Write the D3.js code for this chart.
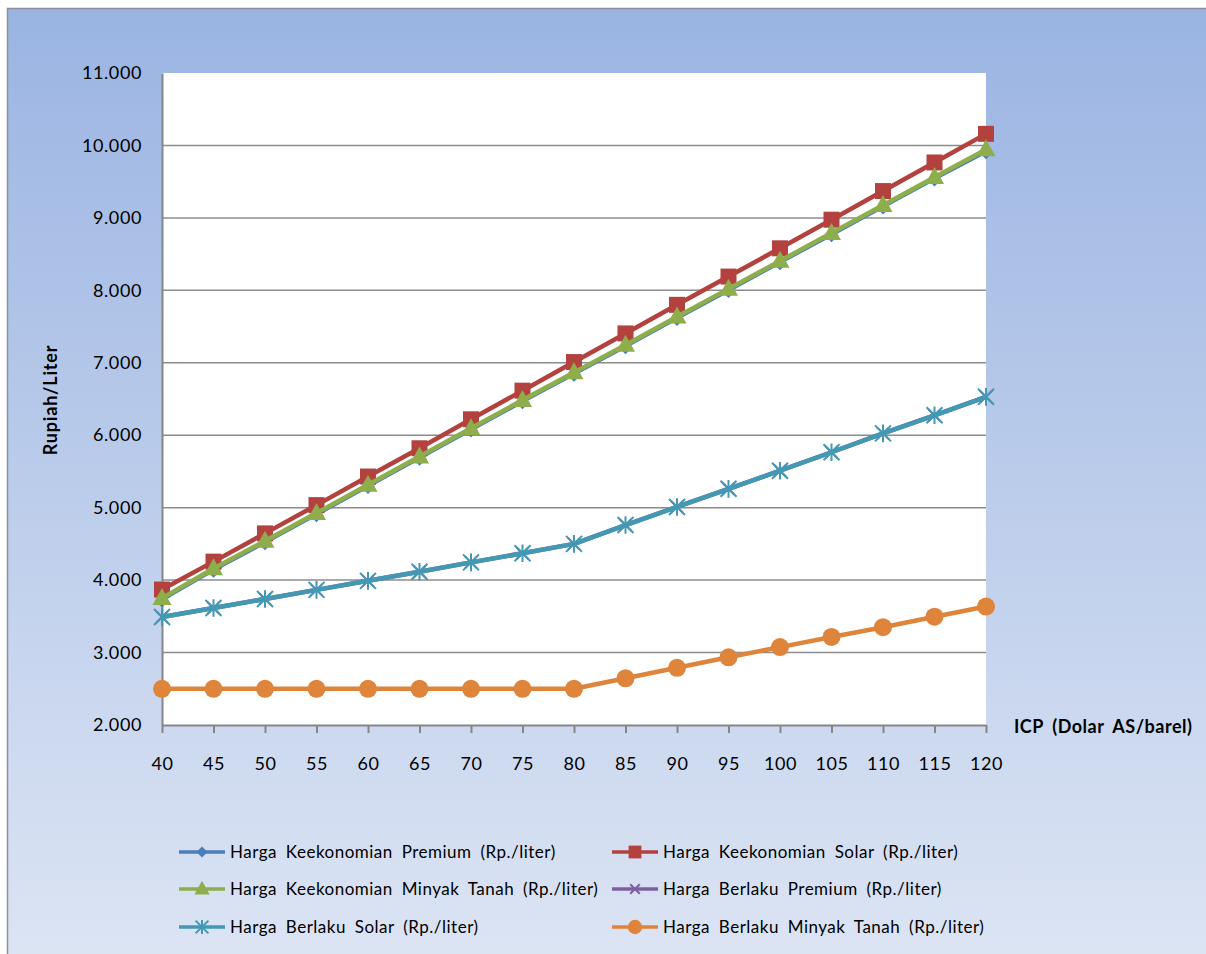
<!DOCTYPE html>
<html>
<head>
<meta charset="utf-8">
<script src="https://cdn.jsdelivr.net/npm/d3@7"></script>
<style>
  html, body { margin: 0; padding: 0; background: #ffffff; }
  svg { display: block; font-family: Lato, "Open Sans", "Noto Sans", sans-serif; }
</style>
</head>
<body>
<svg id="chart" width="1206" height="954"></svg>
<script>
// ICP (USD/barrel) categories
const icp = [40, 45, 50, 55, 60, 65, 70, 75, 80, 85, 90, 95, 100, 105, 110, 115, 120];

// Fuel prices in Rupiah per liter for each ICP level
const keekonomianPremium = [3720, 4130, 4510, 4895, 5285, 5675, 6065, 6455, 6835, 7215, 7605, 7990, 8375, 8760, 9145, 9530, 9905];
const keekonomianSolar   = [3870, 4255, 4645, 5035, 5430, 5820, 6220, 6615, 7010, 7405, 7800, 8190, 8580, 8975, 9370, 9765, 10160];
const keekonomianMinyak  = [3750, 4160, 4540, 4925, 5315, 5705, 6095, 6485, 6865, 7245, 7635, 8020, 8405, 8790, 9175, 9560, 9945];
const berlakuPremium     = [3490, 3615, 3740, 3865, 3990, 4115, 4245, 4370, 4500, 4760, 5010, 5260, 5510, 5765, 6025, 6275, 6530];
const berlakuSolar       = [3490, 3615, 3740, 3865, 3990, 4115, 4245, 4370, 4500, 4760, 5010, 5260, 5510, 5765, 6025, 6275, 6530];
const berlakuMinyak      = [2500, 2500, 2500, 2500, 2500, 2500, 2500, 2500, 2500, 2645, 2790, 2935, 3075, 3215, 3350, 3495, 3635];

const yTicks = [2000, 3000, 4000, 5000, 6000, 7000, 8000, 9000, 10000, 11000];

const seriesNames = [
  "Harga Keekonomian Premium (Rp./liter)",
  "Harga Keekonomian Solar (Rp./liter)",
  "Harga Keekonomian Minyak Tanah (Rp./liter)",
  "Harga Berlaku Premium (Rp./liter)",
  "Harga Berlaku Solar (Rp./liter)",
  "Harga Berlaku Minyak Tanah (Rp./liter)"
];
const seriesValues = [keekonomianPremium, keekonomianSolar, keekonomianMinyak, berlakuPremium, berlakuSolar, berlakuMinyak];
const seriesColors = ["#4a7ebb", "#b3423f", "#8dae4b", "#7d5fa0", "#4399b4", "#de843b"];
const seriesMarkers = ["diamond", "square", "triangle", "x", "star", "circle"];
const seriesWidths = [2.5, 4.5, 4.5, 4.5, 4.5, 4.5];

const svg = d3.select("#chart");

// Chart area background with a vertical gradient
const defs = svg.append("defs");
const grad = defs.append("linearGradient").attr("id", "bg").attr("x1", 0).attr("y1", 0).attr("x2", 0).attr("y2", 1);
grad.append("stop").attr("offset", "0%").attr("stop-color", "#9ab4e2");
grad.append("stop").attr("offset", "100%").attr("stop-color", "#dde5f4");

svg.append("rect").attr("x", 7.5).attr("y", 8.5).attr("width", 1200).attr("height", 960)
  .attr("fill", "url(#bg)").attr("stroke", "#8a8f99").attr("stroke-width", 1.5);

const plot = { left: 162, right: 986, top: 73, bottom: 725 };

const x = d3.scalePoint().domain(icp).range([plot.left, plot.right]);
const y = d3.scaleLinear().domain([2000, 11000]).range([plot.bottom, plot.top]);

svg.append("rect").attr("x", plot.left).attr("y", plot.top)
  .attr("width", plot.right - plot.left).attr("height", plot.bottom - plot.top)
  .attr("fill", "#ffffff");

// Horizontal gridlines
svg.append("g").selectAll("line").data(yTicks.filter(d => d > 2000 && d < 11000)).join("line")
  .attr("x1", plot.left).attr("x2", plot.right)
  .attr("y1", d => y(d)).attr("y2", d => y(d))
  .attr("stroke", "#8c8c8c").attr("stroke-width", 1.5);

const tickStyle = sel => sel.attr("font-size", 18).attr("fill", "#000")
  .attr("font-family", "Lato, sans-serif").attr("letter-spacing", 0.6);

// Y axis
const yAxis = svg.append("g").attr("transform", `translate(${plot.left},0)`)
  .call(d3.axisLeft(y).tickValues(yTicks).tickSize(0).tickPadding(20)
    .tickFormat(d => d3.format(",.0f")(d).replace(/,/g, ".")));
yAxis.select(".domain").attr("stroke", "#868686").attr("stroke-width", 2);
yAxis.selectAll("text").call(tickStyle);

// X axis
const xAxis = svg.append("g").attr("transform", `translate(0,${plot.bottom})`)
  .call(d3.axisBottom(x).tickSize(8).tickSizeOuter(0).tickPadding(24));
xAxis.select(".domain").attr("stroke", "#868686").attr("stroke-width", 2);
xAxis.selectAll(".tick line").attr("stroke", "#868686").attr("stroke-width", 2);
xAxis.selectAll("text").call(tickStyle);

// Axis titles
svg.append("text").attr("x", 1014).attr("y", 733)
  .attr("font-size", 18).attr("font-weight", "bold").attr("fill", "#000")
  .attr("letter-spacing", 0.5).attr("word-spacing", 4)
  .text("ICP (Dolar AS/barel)");
svg.append("text").attr("transform", "translate(57,400) rotate(-90)")
  .attr("text-anchor", "middle")
  .attr("font-size", 18).attr("font-weight", "bold").attr("fill", "#000")
  .attr("letter-spacing", 0.8)
  .text("Rupiah/Liter");

// Marker drawing
function drawMarker(g, type, color, cx, cy, scale) {
  const s = scale || 1;
  if (type === "square") {
    g.append("rect").attr("x", cx - 8 * s).attr("y", cy - 8 * s).attr("width", 16 * s).attr("height", 16 * s).attr("fill", color);
  } else if (type === "triangle") {
    const h = 17 * s, w = 19 * s;
    g.append("path").attr("d", `M${cx},${cy - h * 0.6}L${cx + w / 2},${cy + h * 0.4}L${cx - w / 2},${cy + h * 0.4}Z`).attr("fill", color);
  } else if (type === "diamond") {
    const r = 7 * s;
    g.append("path").attr("d", `M${cx},${cy - r}L${cx + r},${cy}L${cx},${cy + r}L${cx - r},${cy}Z`).attr("fill", color);
  } else if (type === "circle") {
    g.append("circle").attr("cx", cx).attr("cy", cy).attr("r", 9 * s).attr("fill", color);
  } else if (type === "x") {
    const r = 6 * s;
    g.append("path").attr("d", `M${cx - r},${cy - r}L${cx + r},${cy + r}M${cx - r},${cy + r}L${cx + r},${cy - r}`)
      .attr("stroke", color).attr("stroke-width", 2);
  } else if (type === "star") {
    const r = 8 * s;
    g.append("path").attr("d", `M${cx - r},${cy - r}L${cx + r},${cy + r}M${cx - r},${cy + r}L${cx + r},${cy - r}M${cx},${cy - r * 1.1}L${cx},${cy + r * 1.1}`)
      .attr("stroke", color).attr("stroke-width", 2);
  }
}

const line = d3.line().x((d, i) => x(icp[i])).y(d => y(d));

// Draw series in order so later ones sit on top
seriesValues.forEach((vals, si) => {
  const g = svg.append("g");
  g.append("path").attr("d", line(vals)).attr("fill", "none")
    .attr("stroke", seriesColors[si]).attr("stroke-width", seriesWidths[si])
    .attr("stroke-linejoin", "round");
  vals.forEach((v, i) => drawMarker(g, seriesMarkers[si], seriesColors[si], x(icp[i]), y(v), 1));
});

// Legend
const legendPos = [
  { x: 179, y: 852 }, { x: 612, y: 852 },
  { x: 179, y: 889 }, { x: 612, y: 889 },
  { x: 179, y: 927 }, { x: 612, y: 927 }
];
seriesNames.forEach((name, si) => {
  const p = legendPos[si];
  const g = svg.append("g");
  g.append("line").attr("x1", p.x).attr("x2", p.x + 46).attr("y1", p.y).attr("y2", p.y)
    .attr("stroke", seriesColors[si]).attr("stroke-width", 3.5);
  drawMarker(g, seriesMarkers[si], seriesColors[si], p.x + 23, p.y, 0.8);
  g.append("text").attr("x", p.x + 51).attr("y", p.y + 6)
    .attr("font-size", 17).attr("fill", "#000")
    .attr("letter-spacing", 0.5).attr("word-spacing", 4)
    .text(name);
});
</script>
</body>
</html>
